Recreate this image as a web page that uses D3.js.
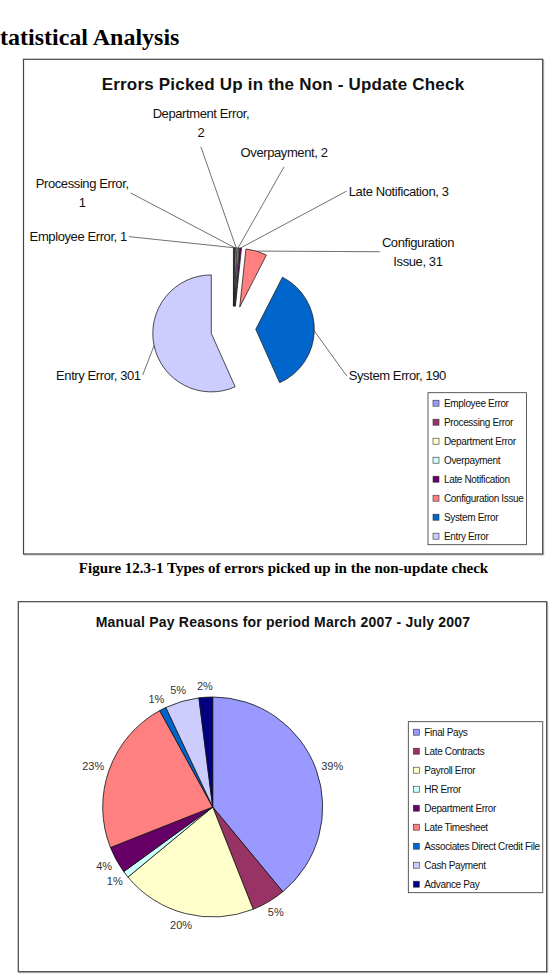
<!DOCTYPE html>
<html>
<head>
<meta charset="utf-8">
<script src="https://cdn.jsdelivr.net/npm/d3@7"></script>
<style>
  body { margin: 0; background: #fff; }
  svg text { font-family: "Liberation Sans", Arial, sans-serif; }
</style>
</head>
<body>
<div id="page"></div>
<script>
// chart 1 - errors picked up in the non-update check
const errorTypes = ["Employee Error", "Processing Error", "Department Error", "Overpayment",
    "Late Notification", "Configuration Issue", "System Error", "Entry Error"];
const errorCounts = [1, 1, 2, 2, 3, 31, 190, 301];
const errorColours = ["#9999ff", "#993366", "#ffffcc", "#ccffff", "#660066", "#ff8080", "#0066cc", "#ccccff"];

// chart 2 - manual pay reasons (percent)
const payReasons = ["Final Pays", "Late Contracts", "Payroll Error", "HR Error", "Department Error",
    "Late Timesheet", "Associates Direct Credit File", "Cash Payment", "Advance Pay"];
const payShares = [39, 5, 20, 1, 4, 23, 1, 5, 2];
const payColours = ["#9999ff", "#993366", "#ffffcc", "#ccffff", "#660066", "#ff8080", "#0066cc", "#ccccff", "#000080"];

// layout
const width = 553;
const height = 980;

// where the chart 1 labels were dragged to: [angle in degrees, distance in pie radii]
const labelSpots = [[311.4, 2.38], [322.9, 2.91], [349.9, 3.16], [17.4, 2.90],
    [39.5, 3.05], [62.3, 2.83], [112.6, 2.10], [242.9, 1.74]];
// how many words go on the first line of a wrapped label (0 = no wrap)
const labelBreak = [0, 2, 2, 0, 0, 1, 0, 0];

const svg = d3.select('#page')
    .append('svg')
    .attr('width', width)
    .attr('height', height);

// page heading, cut off at the left edge like the scanned page
svg.append('text')
    .attr('x', -13.3)
    .attr('y', 45)
    .style('font-family', '"Liberation Serif", "Times New Roman", serif')
    .attr('font-size', 24)
    .attr('font-weight', 'bold')
    .text('Statistical Analysis');

function frame(x0, y0, x1, y1) {
    svg.append('rect')
        .attr('x', x0 + 1).attr('y', y0 + 1)
        .attr('width', x1 - x0).attr('height', y1 - y0)
        .attr('fill', 'none').attr('stroke', '#bbb').attr('stroke-width', 1);
    svg.append('rect')
        .attr('x', x0).attr('y', y0)
        .attr('width', x1 - x0).attr('height', y1 - y0)
        .attr('fill', '#fff').attr('stroke', '#444').attr('stroke-width', 1.2);
}

function legend(x, y, names, colours) {
    const g = svg.append('g').attr('transform', `translate(${x},${y})`);
    const box = g.append('rect')
        .attr('height', names.length * 19)
        .attr('fill', '#fff').attr('stroke', '#333').attr('stroke-width', 0.8);
    const items = g.selectAll('.item')
        .data(names)
        .join('g')
        .attr('class', 'item')
        .attr('transform', (d, i) => `translate(0,${10.5 + i * 19})`);
    items.append('rect')
        .attr('x', 5).attr('y', -3)
        .attr('width', 6).attr('height', 6)
        .attr('fill', (d, i) => colours[i])
        .attr('stroke', '#333').attr('stroke-width', 0.6);
    const labels = items.append('text')
        .attr('x', 16).attr('y', 3.6)
        .attr('font-size', 10)
        .attr('letter-spacing', -0.35)
        .attr('fill', '#111')
        .text(d => d);
    const w = d3.max(labels.nodes(), n => n.getComputedTextLength());
    box.attr('width', w + 19);
}

const mid = d => (d.startAngle + d.endAngle) / 2;

// ---------- chart 1 ----------
frame(23.5, 59.3, 542.7, 554);

svg.append('text')
    .attr('x', 283).attr('y', 89.5)
    .attr('text-anchor', 'middle')
    .attr('font-size', 17)
    .attr('font-weight', 'bold')
    .attr('letter-spacing', 0.2)
    .attr('fill', '#111')
    .text('Errors Picked Up in the Non - Update Check');

const r1 = 58.5;
const explode = 22.5;
const g1 = svg.append('g').attr('transform', 'translate(233.3,328.7)');

const pie = d3.pie().sort(null);
const arcs1 = pie.value(d => d.value)(errorCounts.map((v, i) => ({ name: errorTypes[i], value: v })));
const arc1 = d3.arc().innerRadius(0).outerRadius(r1);

g1.selectAll('path')
    .data(arcs1)
    .join('path')
    .attr('d', arc1)
    .attr('transform', d => `translate(${Math.sin(mid(d)) * explode},${-Math.cos(mid(d)) * explode})`)
    .attr('fill', (d, i) => errorColours[i])
    .attr('stroke', '#222')
    .attr('stroke-width', 0.8);

// data labels with leader lines
const lineGap = 18.4;
arcs1.forEach((d, i) => {
    const deg = labelSpots[i][0];
    const a = deg * Math.PI / 180;
    const dist = labelSpots[i][1] * r1;
    const ax = Math.sin(a) * dist;
    const ay = -Math.cos(a) * dist;
    const m = mid(d);

    g1.append('line')
        .attr('x1', ax).attr('y1', ay)
        .attr('x2', Math.sin(m) * (explode + r1))
        .attr('y2', -Math.cos(m) * (explode + r1))
        .attr('stroke', '#333')
        .attr('stroke-width', 0.7);

    const words = (d.data.name + ', ' + d.data.value).split(' ');
    const lines = labelBreak[i]
        ? [words.slice(0, labelBreak[i]).join(' '), words.slice(labelBreak[i]).join(' ')]
        : [words.join(' ')];

    const t = g1.append('text')
        .attr('font-size', 13)
        .attr('letter-spacing', -0.4)
        .attr('fill', '#111')
        .attr('text-anchor', 'middle');
    const spans = lines.map(l => t.append('tspan').text(l));
    const w = d3.max(spans, s => s.node().getComputedTextLength());
    const n = lines.length;

    spans.forEach((s, j) => {
        let cx, cy;
        if (deg < 30 || deg > 330) {
            // label sits above the leader
            cx = ax;
            cy = ay - 14.5 - (n - 1 - j) * lineGap;
        } else {
            cx = deg < 180 ? ax + 2 + w / 2 : ax - 2 - w / 2;
            cy = ay + (j - (n - 1) / 2) * lineGap;
        }
        s.attr('x', cx).attr('y', cy + 4.6);
    });
});

legend(428, 392.7, errorTypes, errorColours);

svg.append('text')
    .attr('x', 283.5).attr('y', 573)
    .attr('text-anchor', 'middle')
    .style('font-family', '"Liberation Serif", "Times New Roman", serif')
    .attr('font-size', 15)
    .attr('font-weight', 'bold')
    .text('Figure 12.3-1 Types of errors picked up in the non-update check');

// ---------- chart 2 ----------
frame(18.3, 601.7, 546.7, 971.7);

svg.append('text')
    .attr('x', 283).attr('y', 627)
    .attr('text-anchor', 'middle')
    .attr('font-size', 14)
    .attr('font-weight', 'bold')
    .attr('letter-spacing', 0.2)
    .attr('fill', '#111')
    .text('Manual Pay Reasons for period March 2007 - July 2007');

const r2 = 110;
const g2 = svg.append('g').attr('transform', 'translate(212.7,807)');
const arcs2 = d3.pie().sort(null).value(d => d)(payShares);
const arc2 = d3.arc().innerRadius(0).outerRadius(r2);

g2.selectAll('path')
    .data(arcs2)
    .join('path')
    .attr('d', arc2)
    .attr('fill', (d, i) => payColours[i])
    .attr('stroke', '#111')
    .attr('stroke-width', 0.8);

// percent labels just outside the rim
const pct = g2.selectAll('.pct')
    .data(arcs2)
    .join('text')
    .attr('class', 'pct')
    .attr('font-size', 11)
    .attr('fill', '#333')
    .attr('text-anchor', 'middle')
    .text(d => d.data + '%');

pct.each(function (d) {
    const w = this.getComputedTextLength();
    const m = mid(d);
    const ux = Math.sin(m);
    const uy = -Math.cos(m);
    const R = r2 + 6;
    d3.select(this)
        .attr('x', ux * R + ux * w / 2)
        .attr('y', uy * R + uy * 5.5 + 4);
});

legend(408.3, 721.7, payReasons, payColours);
</script>
</body>
</html>
